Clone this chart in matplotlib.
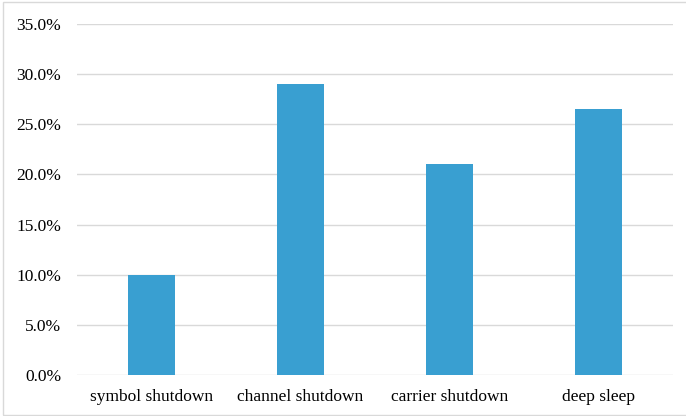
import matplotlib
matplotlib.use('Agg')
import matplotlib.pyplot as plt
from matplotlib.ticker import FuncFormatter, MultipleLocator

categories = ['symbol shutdown', 'channel shutdown', 'carrier shutdown', 'deep sleep']
shares = [10.0, 29.0, 21.0, 26.5]

plt.rcParams['font.family'] = ['Liberation Serif', 'DejaVu Serif']

fig = plt.figure(figsize=(6.86, 4.16), dpi=100)
ax = fig.add_axes([77/686, 1 - 375/416, (673-77)/686, (375-24)/416])

ax.bar(range(len(categories)), shares, width=0.315, color='#399FD1', zorder=3)

ax.set_xlim(-0.5, len(categories) - 0.5)
ax.set_ylim(0, 35)
ax.yaxis.set_major_locator(MultipleLocator(5))
ax.yaxis.set_major_formatter(FuncFormatter(lambda v, p: f'{v:.1f}%'))
ax.set_xticks(range(len(categories)))
ax.set_xticklabels(categories)
ax.grid(axis='y', color='#D9D9D9', linewidth=1, zorder=0)
for s in ax.spines.values():
    s.set_visible(False)
ax.tick_params(length=0, labelsize=12.5, colors='#000000')
ax.tick_params(axis='y', pad=11.5)
ax.tick_params(axis='x', pad=10)

# light frame around the whole chart
fig.patches.append(plt.Rectangle((3/686, 0.002), 1.0, 1 - 3/416, transform=fig.transFigure,
                                 fill=False, edgecolor='#D9D9D9', linewidth=1))

fig.savefig('out.png', dpi=100)
